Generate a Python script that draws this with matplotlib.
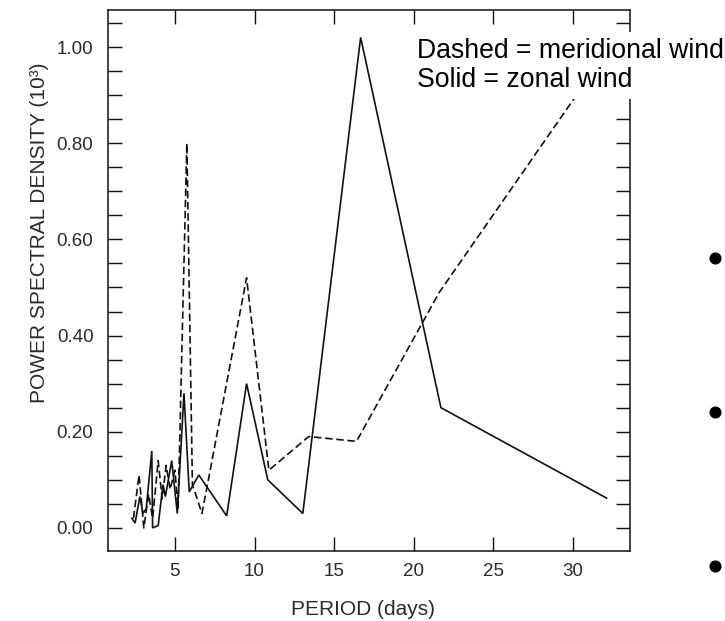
import matplotlib
matplotlib.use("Agg")
import matplotlib.pyplot as plt
from matplotlib.ticker import MultipleLocator
from matplotlib.lines import Line2D

plt.rcParams['font.family'] = ['Liberation Sans', 'DejaVu Sans']

# Zonal wind (solid)
zonal_period = [2.3, 2.5, 2.8, 3.0, 3.2, 3.55, 3.6, 3.95, 4.25, 4.4, 4.8, 5.15,
                5.57, 5.9, 6.5, 8.25, 9.5, 10.83, 13.03, 16.66, 21.7, 32.1]
zonal_psd = [0.02, 0.01, 0.065, 0.03, 0.04, 0.16, 0.0, 0.005, 0.09, 0.065, 0.14, 0.03,
             0.28, 0.075, 0.11, 0.025, 0.30, 0.10, 0.03, 1.02, 0.25, 0.062]

# Meridional wind (dashed)
merid_period = [2.4, 2.75, 3.05, 3.35, 3.6, 3.95, 4.2, 4.45, 4.7, 5.0, 5.2, 5.75,
                6.1, 6.7, 9.5, 10.9, 13.4, 16.4, 21.6, 32.1]
merid_psd = [0.02, 0.11, 0.00, 0.07, 0.02, 0.14, 0.06, 0.13, 0.08, 0.12, 0.04, 0.80,
             0.09, 0.03, 0.52, 0.12, 0.19, 0.18, 0.49, 0.99]

x_ticks = [5, 10, 15, 20, 25, 30]
y_ticks = [0.0, 0.2, 0.4, 0.6, 0.8, 1.0]
y_tick_labels = ["0.00", "0.20", "0.40", "0.60", "0.80", "1.00"]

W, H = 725, 621
fig = plt.figure(figsize=(W / 100, H / 100), dpi=100)
L, R, T, B = 108, 630, 10, 551
ax = fig.add_axes([L / W, 1 - B / H, (R - L) / W, (B - T) / H])

ink = '#111111'
ax.plot(zonal_period, zonal_psd, color=ink, lw=1.2, solid_joinstyle='miter')
ax.plot(merid_period, merid_psd, color=ink, lw=1.2, linestyle=(0, (4.5, 2.2)))

ax.set_xlim(0.8, 33.57)
ax.set_ylim(-0.048, 1.077)
ax.set_xticks(x_ticks)
ax.set_xticklabels([str(v) for v in x_ticks])
ax.set_yticks(y_ticks)
ax.set_yticklabels(y_tick_labels)
ax.yaxis.set_minor_locator(MultipleLocator(0.05))

for s in ax.spines.values():
    s.set_linewidth(1.1)
    s.set_color(ink)

ax.tick_params(axis='both', which='both', direction='in', top=True, right=True,
               length=10, width=1.0, color=ink)
ax.tick_params(axis='y', which='major', pad=10.5, labelsize=13.5, labelcolor='#2a2a2a')
ax.tick_params(axis='x', which='major', pad=8.5, labelsize=13.5, labelcolor='#2a2a2a')
ax.tick_params(axis='x', which='minor', bottom=False, top=False)

ax.set_xlabel('PERIOD (days)', fontsize=15, color='#2a2a2a')
ax.xaxis.set_label_coords((363 - L) / (R - L), (B - 600) / (B - T))
fig.text(40 / W, 1 - 233 / H, 'POWER SPECTRAL DENSITY (10³)', rotation=90,
         ha='center', va='center', fontsize=15, color='#2a2a2a')

fig.text(417 / W, 1 - 87 / H, 'Dashed = meridional wind\nSolid = zonal wind',
         ha='left', va='baseline', fontsize=19.2, color='black', linespacing=1.17,
         zorder=10,
         bbox=dict(facecolor='white', edgecolor='none', pad=4))

# bullet marks at the right edge
for by in [258, 412, 566]:
    fig.add_artist(Line2D([715 / W], [1 - by / H], marker='o', markersize=7.7,
                          color='black', linestyle='none', transform=fig.transFigure))

fig.savefig('out.png', dpi=100)
